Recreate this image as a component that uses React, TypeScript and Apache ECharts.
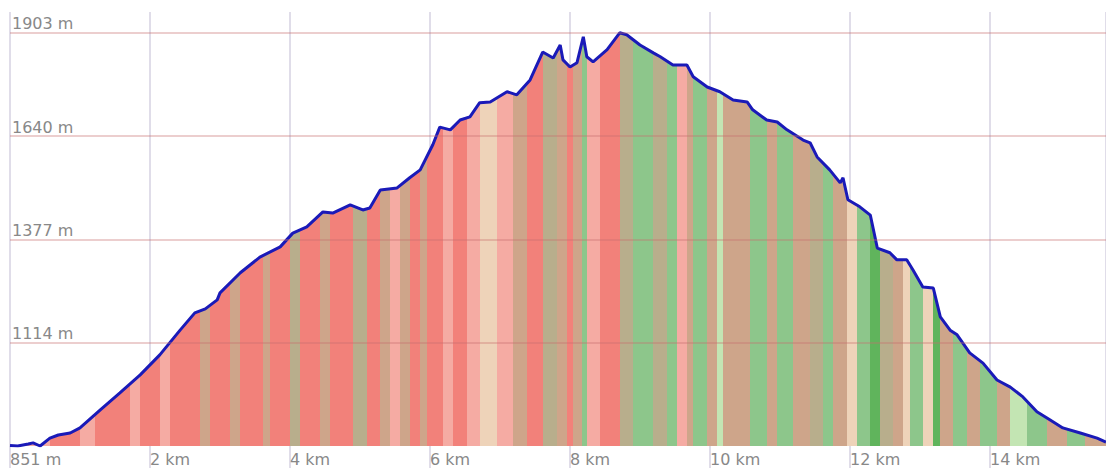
import React, { useEffect, useRef } from "react";
import * as echarts from "echarts";

// Elevation profile (distance in km, elevation in m)
const distanceKm = [
  0, 0.11, 0.26, 0.33, 0.43, 0.57, 0.69, 0.86, 1.0, 1.29, 1.57, 1.86, 2.14, 2.43, 2.64, 2.79, 2.96,
  3.0, 3.29, 3.57, 3.86, 4.04, 4.24, 4.47, 4.61, 4.86, 5.04, 5.14, 5.29, 5.53, 5.71, 5.86, 6.04,
  6.14, 6.29, 6.43, 6.57, 6.71, 6.86, 7.1, 7.24, 7.43, 7.61, 7.76, 7.86, 7.9, 8.0, 8.1, 8.19, 8.24,
  8.33, 8.53, 8.71, 8.81, 9.0, 9.19, 9.29, 9.47, 9.67, 9.76, 9.96, 10.14, 10.33, 10.53, 10.61,
  10.81, 10.96, 11.1, 11.33, 11.43, 11.53, 11.71, 11.86, 11.9, 11.97, 12.14, 12.29, 12.39, 12.57,
  12.67, 12.81, 12.9, 13.04, 13.19, 13.29, 13.43, 13.53, 13.71, 13.9, 14.1, 14.29, 14.47, 14.67,
  14.86, 15.04, 15.29, 15.53, 15.657,
];
const elevationM = [
  852, 851, 856, 859, 851, 871, 879, 884, 897, 943, 986, 1032, 1083, 1146, 1190, 1200, 1223,
  1241, 1292, 1332, 1358, 1393, 1409, 1447, 1444, 1465, 1452, 1457, 1503, 1508, 1534, 1554, 1618,
  1663, 1656, 1681, 1689, 1725, 1727, 1753, 1745, 1783, 1854, 1839, 1872, 1834, 1816, 1827, 1893, 1842,
  1829, 1860, 1903, 1898, 1872, 1852, 1842, 1821, 1821, 1791, 1765, 1753, 1732, 1727, 1707,
  1681, 1676, 1656, 1630, 1623, 1587, 1554, 1521, 1534, 1478, 1460, 1439, 1355, 1343,
  1325, 1325, 1299, 1256, 1253, 1180, 1146, 1134, 1088, 1062, 1019, 1001, 976, 938,
  917, 897, 884, 871, 861,
];

const minElevation = 851;
const maxElevationShown = 1956;
const elevationGridValues = [1114, 1377, 1640, 1903];
const totalKm = 15.657;
const kmTickStep = 2;

// Slope colour stripes: start of each stripe (km) and its colour class
const stripeStartKm = [
  0, 0.57, 1.0, 1.21, 1.71, 1.86, 2.14, 2.29, 2.71, 2.86,
  3.14, 3.29, 3.61, 3.71, 4.0, 4.14, 4.43, 4.57, 4.9, 5.1,
  5.29, 5.43, 5.57, 5.71, 5.86, 5.96, 6.19, 6.33, 6.53, 6.71,
  6.96, 7.19, 7.39, 7.61, 7.81, 7.96, 8.04, 8.17, 8.24, 8.43,
  8.71, 8.9, 9.19, 9.39, 9.53, 9.67, 9.76, 9.96, 10.1, 10.19,
  10.57, 10.81, 10.96, 11.19, 11.43, 11.61, 11.76, 11.96, 12.1, 12.29,
  12.43, 12.61, 12.76, 12.86, 13.04, 13.19, 13.29, 13.47, 13.67, 13.86,
  14.1, 14.29, 14.53, 14.81, 15.1, 15.36,
];
const stripeColorKey = [
  "P", "R", "P", "R", "P", "R", "P", "R", "T", "R",
  "T", "R", "T", "R", "O", "R", "T", "R", "O", "R",
  "T", "P", "T", "R", "T", "R", "P", "R", "P", "B",
  "P", "T", "R", "O", "T", "R", "T", "G", "P", "R",
  "O", "G", "O", "G", "P", "T", "G", "T", "L", "T",
  "G", "T", "G", "T", "O", "G", "T", "B", "G", "D",
  "O", "T", "B", "G", "B", "D", "T", "G", "T", "G",
  "T", "L", "G", "T", "G", "T",
];
const palette: Record<string, string> = {
  R: "#f2817a",
  P: "#f5aba3",
  T: "#cea58a",
  B: "#eed3b9",
  O: "#b8ae8c",
  G: "#8dc68b",
  L: "#c3e5b3",
  D: "#60b45c",
};

export default function App() {
  const ref = useRef<HTMLDivElement>(null);

  useEffect(() => {
    if (!ref.current) return;
    const chart = echarts.init(ref.current, undefined, { renderer: "svg" });

    const stops: { offset: number; color: string }[] = [];
    stripeStartKm.forEach((s, i) => {
      const e = i + 1 < stripeStartKm.length ? stripeStartKm[i + 1] : totalKm;
      const c = palette[stripeColorKey[i]];
      stops.push({ offset: s / totalKm, color: c });
      stops.push({ offset: Math.min(1, e / totalKm), color: c });
    });

    const textColor = "#888888";
    const font = "DejaVu Sans";
    const vLine = "rgba(150,140,180,0.4)";

    chart.setOption({
      animation: false,
      grid: { left: 10, right: 0, top: 12, bottom: 26, containLabel: false },
      xAxis: {
        type: "value",
        min: 0,
        max: totalKm,
        interval: kmTickStep,
        axisLine: { show: false },
        axisTick: {
          show: true,
          length: 22,
          lineStyle: { color: vLine, width: 1.5 },
        },
        axisLabel: {
          showMaxLabel: false,
          align: "left",
          margin: 5,
          color: textColor,
          fontSize: 16,
          fontFamily: font,
          formatter: (v: number) => (v === 0 ? `${minElevation} m` : `${v} km`),
        },
        splitLine: {
          show: true,
          lineStyle: { color: vLine, width: 1.5 },
        },
      },
      yAxis: {
        type: "value",
        min: minElevation,
        max: maxElevationShown,
        axisLabel: { show: false },
        axisTick: { show: false },
        axisLine: { show: false },
        splitLine: { show: false },
      },
      series: [
        {
          type: "line",
          data: distanceKm.map((d, i) => [d, elevationM[i]]),
          symbol: "none",
          smooth: false,
          lineStyle: { color: "#1a1ab8", width: 3 },
          areaStyle: {
            origin: "start",
            opacity: 1,
            color: new echarts.graphic.LinearGradient(0, 0, 1, 0, stops),
          },
          markLine: {
            silent: true,
            symbol: "none",
            animation: false,
            lineStyle: { type: "solid", color: "rgba(200,110,110,0.45)", width: 1.5 },
            label: {
              position: "insideStartTop",
              distance: [2, 1],
              color: textColor,
              fontSize: 16,
              fontFamily: font,
              formatter: (p: any) => `${p.value} m`,
            },
            data: elevationGridValues.map((v) => ({ yAxis: v })),
          },
        },
      ],
    });

    return () => chart.dispose();
  }, []);

  return (
    <div
      ref={ref}
      style={{ position: "absolute", left: 0, top: 0, width: 1106, height: 472 }}
    />
  );
}
